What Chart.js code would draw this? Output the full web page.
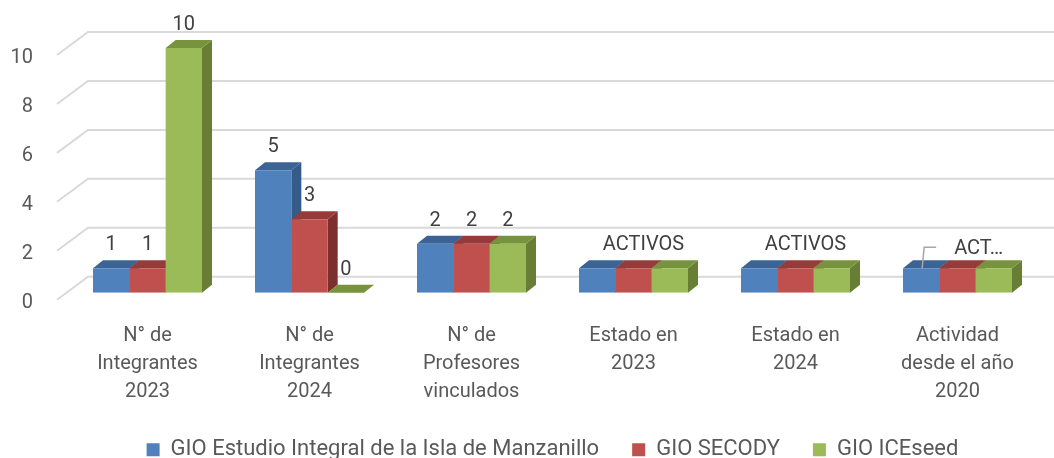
<!DOCTYPE html>
<html>
<head>
<meta charset="utf-8">
<script src="https://cdn.jsdelivr.net/npm/chart.js@4/dist/chart.umd.min.js"></script>
<style>
  html, body { margin: 0; padding: 0; background: #ffffff; }
  #wrap { width: 1054px; height: 458px; position: relative; }
</style>
</head>
<body>
<div id="wrap"><canvas id="c" width="1054" height="458"></canvas></div>
<script>
// ---- data ----
const categories = [
  ['N° de', 'Integrantes', '2023'],
  ['N° de', 'Integrantes', '2024'],
  ['N° de', 'Profesores', 'vinculados'],
  ['Estado en', '2023'],
  ['Estado en', '2024'],
  ['Actividad', 'desde el año', '2020']
];
const seriesNames = ['GIO Estudio Integral de la Isla de Manzanillo', 'GIO SECODY', 'GIO ICEseed'];
const islaValues    = [1, 5, 2, 1, 1, 1];
const secodyValues  = [1, 3, 2, 1, 1, 1];
const iceseedValues = [10, 0, 2, 1, 1, 1];
const islaLabels    = ['1', '5', '2', '', '', 'ACT…'];
const secodyLabels  = ['1', '3', '2', 'ACTIVOS', 'ACTIVOS', ''];
const iceseedLabels = ['10', '0', '2', '', '', ''];
const yTickValues = [0, 2, 4, 6, 8, 10];

// ---- styles ----
const FONT = 'Roboto';
const frontColors = ['#4F81BD', '#C0504D', '#9BBB59'];
const topColors   = ['#3B6494', '#953C3A', '#77933D'];
const sideColors  = ['#355B88', '#7C2F2D', '#677E34'];
const DX = 10, DY = -8;           // bar depth
const GRID_FRONT = { dx: -9.5, dy: 7 };
const GRID_BACK  = { dx: 21.5, dy: -16 };
const dataLabelSets = [islaLabels, secodyLabels, iceseedLabels];

const threeD = {
  id: 'threeD',
  beforeDatasetsDraw(chart) {
    const { ctx, chartArea: a, scales: { y } } = chart;
    ctx.save();
    ctx.strokeStyle = '#D9D9D9';
    ctx.lineWidth = 2;
    yTickValues.forEach(v => {
      const py = y.getPixelForValue(v);
      ctx.beginPath();
      ctx.moveTo(a.left + GRID_FRONT.dx, py + GRID_FRONT.dy);
      ctx.lineTo(a.left + GRID_BACK.dx, py + GRID_BACK.dy);
      ctx.lineTo(chart.width, py + GRID_BACK.dy);
      ctx.stroke();
    });
    const n = chart.data.labels.length;
    for (let i = 0; i < n; i++) {
      chart.data.datasets.forEach((ds, d) => {
        const el = chart.getDatasetMeta(d).data[i];
        if (!el) return;
        const { x, y: top, base, width } = el.getProps(['x', 'y', 'base', 'width'], true);
        const l = x - width / 2, r = x + width / 2;
        ctx.fillStyle = sideColors[d];
        ctx.beginPath();
        ctx.moveTo(r, top); ctx.lineTo(r + DX, top + DY);
        ctx.lineTo(r + DX, base + DY); ctx.lineTo(r, base);
        ctx.closePath(); ctx.fill();
        ctx.fillStyle = topColors[d];
        ctx.beginPath();
        ctx.moveTo(l, top); ctx.lineTo(r, top);
        ctx.lineTo(r + DX, top + DY); ctx.lineTo(l + DX, top + DY);
        ctx.closePath(); ctx.fill();
      });
    }
    ctx.restore();
  },
  afterDatasetsDraw(chart) {
    const { ctx } = chart;
    ctx.save();
    ctx.font = '20px ' + FONT;
    ctx.fillStyle = '#404040';
    ctx.textBaseline = 'middle';
    chart.data.datasets.forEach((ds, d) => {
      const texts = dataLabelSets[d];
      chart.getDatasetMeta(d).data.forEach((el, i) => {
        const t = texts[i];
        if (!t) return;
        const { x, y: top, width } = el.getProps(['x', 'y', 'width'], true);
        if (t.endsWith('…')) {
          const ly = top - 21;
          ctx.strokeStyle = '#A6A6A6';
          ctx.lineWidth = 1.5;
          ctx.beginPath();
          ctx.moveTo(x + 1, top);
          ctx.lineTo(x + 3, ly);
          ctx.lineTo(x + 15, ly);
          ctx.stroke();
          ctx.textAlign = 'left';
          ctx.fillText(t, x + 33, ly + 2);
        } else {
          const w = ctx.measureText(t).width;
          ctx.textAlign = 'center';
          ctx.fillText(t, w > width ? x + DX : x, top - 23);
        }
      });
    });
    ctx.restore();
  }
};

const BOTTOM = 292.7;   // chart-area bottom (front plane of bars at value 0)
const X_AXIS_H = 113;

new Chart(document.getElementById('c'), {
  type: 'bar',
  data: {
    labels: categories,
    datasets: [
      { label: seriesNames[0], data: islaValues,    backgroundColor: frontColors[0] },
      { label: seriesNames[1], data: secodyValues,  backgroundColor: frontColors[1] },
      { label: seriesNames[2], data: iceseedValues, backgroundColor: frontColors[2] }
    ]
  },
  options: {
    responsive: false,
    animation: false,
    devicePixelRatio: 1,
    layout: { padding: { top: 48, right: 15.5, left: 0, bottom: 0 } },
    datasets: { bar: { categoryPercentage: 0.673, barPercentage: 1, borderWidth: 0 } },
    scales: {
      x: {
        grid: { display: false, drawTicks: false },
        border: { display: false },
        ticks: {
          color: '#595959',
          font: { family: FONT, size: 20, lineHeight: 1.4 },
          padding: 29,
          maxRotation: 0, minRotation: 0, autoSkip: false
        },
        afterFit(s) { s.height = X_AXIS_H; }
      },
      y: {
        min: 0, max: 10,
        grid: { display: false, drawTicks: false },
        border: { display: false },
        ticks: {
          stepSize: 2,
          color: '#595959',
          font: { family: FONT, size: 20 },
          padding: 33.5,
          labelOffset: 10
        },
        afterFit(s) { s.width = 66.5; }
      }
    },
    plugins: {
      legend: {
        position: 'bottom',
        fullSize: false,
        maxHeight: 458 - BOTTOM - X_AXIS_H,
        labels: {
          boxWidth: 13, boxHeight: 13,
          padding: 33,
          color: '#595959',
          font: { family: FONT, size: 22 }
        }
      },
      tooltip: { enabled: false }
    }
  },
  plugins: [threeD]
});
</script>
</body>
</html>
